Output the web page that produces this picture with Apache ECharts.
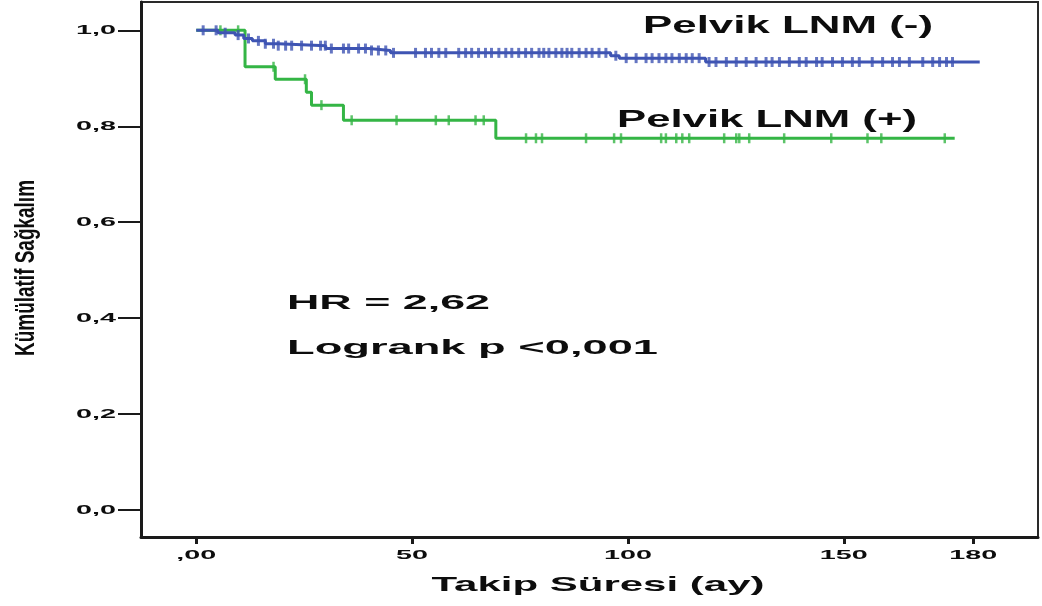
<!DOCTYPE html>
<html>
<head>
<meta charset="utf-8">
<script src="https://cdn.jsdelivr.net/npm/echarts@6/dist/echarts.min.js"></script>
<style>
  html, body { margin: 0; padding: 0; background: #fff; }
  #chart { width: 1042px; height: 606px; }
</style>
</head>
<body>
<div id="chart"></div>
<script>
// Kaplan-Meier step curves: event times (months) and cumulative survival after each event
const blueTimes = [0, 5, 9, 11, 13, 16, 19, 30, 40, 45, 96, 98, 118];
const blueSurv  = [1.0, 0.995, 0.99, 0.983, 0.978, 0.972, 0.968, 0.962, 0.958, 0.953, 0.947, 0.942, 0.934];
const blueEnd = 181.5;
const blueCensored = [1.6, 4.6, 6.7, 9.7, 12.1, 14.4, 16.0, 17.9, 19.0, 20.7, 22.1, 24.4, 26.7, 28.8, 29.9,
  31.3, 34.1, 35.3, 37.6, 39.2, 40.6, 42.2, 43.9, 45.7, 50.8, 53.1, 54.5, 56.2, 57.8, 60.8, 62.4, 63.8,
  65.4, 67.0, 68.4, 70.1, 71.7, 73.1, 74.7, 76.3, 77.7, 79.4, 80.5, 81.7, 83.3, 84.7, 85.9, 87.0, 88.7,
  90.3, 91.7, 93.3, 94.9, 97.2, 99.6, 101.9, 104.2, 105.6, 107.2, 108.8, 110.2, 111.9, 113.5, 114.9,
  116.5, 118.8, 120.4, 122.8, 125.1, 127.4, 129.7, 132.0, 133.4, 135.1, 137.4, 139.7, 141.3, 143.7,
  145.0, 147.4, 149.7, 152.0, 153.6, 156.6, 159.0, 161.3, 162.9, 165.2, 168.3, 170.6, 172.2, 173.8, 175.2];

const greenTimes = [0, 11.3, 18.3, 25.5, 26.7, 34.1, 69.4];
const greenSurv  = [1.0, 0.924, 0.898, 0.871, 0.844, 0.8125, 0.775];
const greenEnd = 175.7;
const greenCensored = [5.6, 9.7, 17.9, 25.2, 29.0, 36.0, 46.4, 55.5, 58.5, 64.7, 66.6, 76.4, 78.7, 80.1,
  90.3, 96.8, 98.4, 107.7, 108.8, 111.2, 112.6, 114.2, 122.3, 125.1, 125.8, 128.1, 136.2, 147.1, 155.5,
  158.7, 173.4];

const yTickValues = [0, 0.2, 0.4, 0.6, 0.8, 1.0];
const yTickLabels = ['0,0', '0,2', '0,4', '0,6', '0,8', '1,0'];
const xTickValues = [0, 50, 100, 150, 180];
const xTickLabels = [',00', '50', '100', '150', '180'];

const xAxisTitle = 'Takip Süresi (ay)';
const yAxisTitle = 'Kümülatif Sağkalım';
const groupNames = ['Pelvik LNM (-)', 'Pelvik LNM (+)'];
const statLines = ['HR = 2,62', 'Logrank p <0,001'];

const BLUE = '#3e54b3';
const GREEN = '#34b545';
const INK = '#0d0d0d';
const FONT = '"Liberation Sans", Arial, sans-serif';

function stepData(times, surv, end) {
  const d = times.map((t, i) => [t, surv[i]]);
  d.push([end, surv[surv.length - 1]]);
  return d;
}
function survAt(times, surv, t) {
  let s = surv[0];
  for (let i = 0; i < times.length; i++) if (times[i] <= t) s = surv[i];
  return s;
}
function censorData(list, times, surv) {
  return list.map(t => [t, survAt(times, surv, t)]);
}

// widen text horizontally to a given width
const measureCtx = document.createElement('canvas').getContext('2d');
function textWidth(text, font) { measureCtx.font = font; return measureCtx.measureText(text).width; }
function wideText(text, font, x, y, align, scaleX, extra) {
  return Object.assign({
    type: 'text', x: x, y: y, scaleX: scaleX, z: 100, silent: true,
    style: { text: text, font: font, fill: INK, align: align, verticalAlign: 'middle',
             textAlign: align, textVerticalAlign: 'middle' }
  }, extra || {});
}
function fitText(text, font, x, y, align, width) {
  return wideText(text, font, x, y, align, width / textWidth(text, font));
}

const chart = echarts.init(document.getElementById('chart'), null, { renderer: 'canvas' });

chart.setOption({
  animation: false,
  backgroundColor: '#fff',
  grid: { left: 141, right: 4, top: 2, bottom: 69, show: true, borderColor: '#2a2a2a', borderWidth: 2 },
  xAxis: {
    type: 'value', min: -12.8, max: 195,
    splitLine: { show: false },
    axisLine: { onZero: false, lineStyle: { color: '#1a1a1a', width: 3 } },
    axisTick: { show: true, customValues: xTickValues, length: 7, lineStyle: { color: '#1a1a1a', width: 3 } },
    axisLabel: { show: false }
  },
  yAxis: {
    type: 'value', min: -0.056, max: 1.059,
    splitLine: { show: false },
    axisLine: { onZero: false, lineStyle: { color: '#1a1a1a', width: 3 } },
    axisTick: { show: true, customValues: yTickValues, length: 23, lineStyle: { color: '#1a1a1a', width: 2 } },
    axisLabel: { show: false }
  },
  series: [
    { name: groupNames[1], type: 'line', step: 'end', showSymbol: false, z: 2,
      data: stepData(greenTimes, greenSurv, greenEnd), lineStyle: { color: GREEN, width: 3 } },
    { name: groupNames[1] + ' censored', type: 'scatter', symbol: 'rect', symbolSize: [2.5, 10], z: 2,
      data: censorData(greenCensored, greenTimes, greenSurv), itemStyle: { color: GREEN } },
    { name: groupNames[0], type: 'line', step: 'end', showSymbol: false, z: 3,
      data: stepData(blueTimes, blueSurv, blueEnd), lineStyle: { color: BLUE, width: 3 } },
    { name: groupNames[0] + ' censored', type: 'scatter', symbol: 'rect', symbolSize: [3, 10], z: 3,
      data: censorData(blueCensored, blueTimes, blueSurv), itemStyle: { color: BLUE } }
  ]
});

// tick labels and titles, placed through the axis scales
const tickFont = 'bold 12.5px ' + FONT;
const tickScale = 2.3;
const graphics = [];
yTickValues.forEach((v, i) => {
  const py = chart.convertToPixel({ yAxisIndex: 0 }, v);
  graphics.push(wideText(yTickLabels[i], tickFont, 116, py, 'right', tickScale));
});
xTickValues.forEach((v, i) => {
  const px = chart.convertToPixel({ xAxisIndex: 0 }, v);
  graphics.push(wideText(xTickLabels[i], tickFont, px, 556, 'center', tickScale));
});

graphics.push(fitText(xAxisTitle, 'bold 21px ' + FONT, 598, 585, 'center', 333));

const yTitleFont = 'bold 19px ' + FONT;
graphics.push(wideText(yAxisTitle, yTitleFont, 26, 268, 'center', 176 / textWidth(yAxisTitle, yTitleFont),
  { rotation: Math.PI / 2, scaleY: 1.5 }));

graphics.push(fitText(groupNames[0], 'bold 23px ' + FONT, 643, 27, 'left', 290));
graphics.push(fitText(groupNames[1], 'bold 23px ' + FONT, 617, 121, 'left', 300));
graphics.push(fitText(statLines[0], 'bold 20px ' + FONT, 287, 303, 'left', 203));
graphics.push(fitText(statLines[1], 'bold 20px ' + FONT, 287, 348, 'left', 371));

chart.setOption({ graphic: graphics });
</script>
</body>
</html>
